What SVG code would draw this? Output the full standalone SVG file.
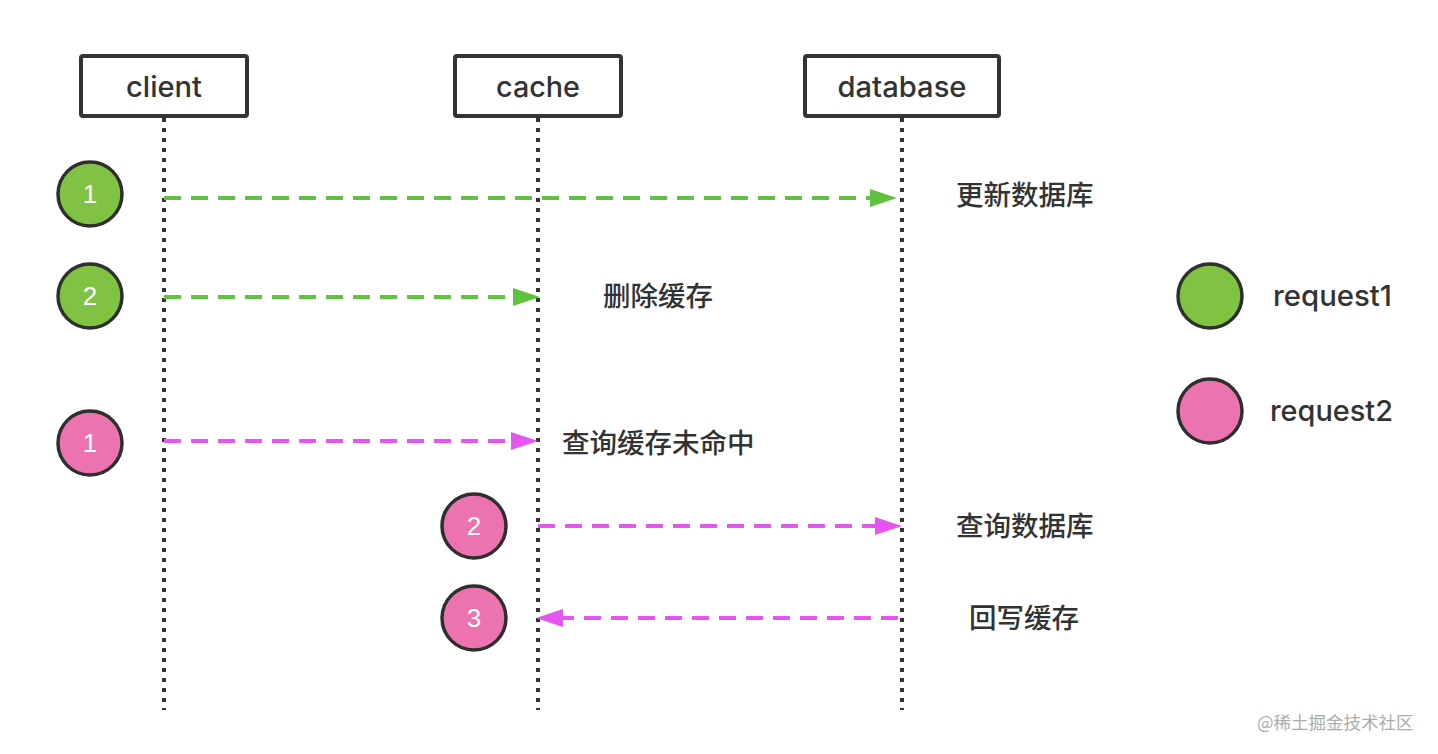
<svg xmlns="http://www.w3.org/2000/svg" width="1438" height="754" viewBox="0 0 1438 754">
  <style>
    .box { fill: #ffffff; stroke: #333333; stroke-width: 4; }
    .life { stroke: #333333; stroke-width: 4; stroke-dasharray: 4 6; fill: none; }
    .hdr { font-family: Inter, "Liberation Sans", Arial, sans-serif; font-size: 29px; font-weight: 500; fill: #333333; text-anchor: middle; }
    .g { fill: #80C342; stroke: #2F2F2F; stroke-width: 3.5; }
    .p { fill: #EC73AF; stroke: #2F2F2F; stroke-width: 3.5; }
    .num { font-family: "Liberation Sans", Arial, sans-serif; font-size: 26px; fill: #ffffff; text-anchor: middle; }
    .lbl { font-family: "Noto Sans CJK SC", "Noto Sans", sans-serif; font-size: 27.5px; font-weight: 500; fill: #333333; }
    .leg { font-family: Inter, "Liberation Sans", Arial, sans-serif; font-size: 29px; font-weight: 500; fill: #333333; }
    .ga { stroke: #60C23E; stroke-width: 4; stroke-dasharray: 17 10; fill: none; marker-end: url(#ahg); }
    .pa { stroke: #E655F0; stroke-width: 4; stroke-dasharray: 17 10; fill: none; marker-end: url(#ahp); }
    .wm { font-family: "Noto Sans CJK SC", sans-serif; font-size: 17.5px; fill: #ACACAC; }
  </style>
  <defs>
    <marker id="ahg" markerUnits="userSpaceOnUse" markerWidth="28" markerHeight="18" refX="3" refY="9" orient="auto" overflow="visible">
      <path d="M0,0 L27,9 L0,18 Z" fill="#60C23E"/>
    </marker>
    <marker id="ahp" markerUnits="userSpaceOnUse" markerWidth="28" markerHeight="18" refX="3" refY="9" orient="auto" overflow="visible">
      <path d="M0,0 L27,9 L0,18 Z" fill="#E655F0"/>
    </marker>
  </defs>
  <rect width="1438" height="754" fill="#ffffff"/>

  <g id="lifelines">
    <line class="life" x1="164" y1="118" x2="164" y2="710"/>
    <line class="life" x1="538" y1="118" x2="538" y2="710"/>
    <line class="life" x1="902" y1="118" x2="902" y2="710"/>
  </g>

  <g id="node-client">
    <rect class="box" x="81" y="56" width="166" height="60" rx="2"/>
    <text class="hdr" x="164" y="97" textLength="76" lengthAdjust="spacingAndGlyphs">client</text>
  </g>
  <g id="node-cache">
    <rect class="box" x="455" y="56" width="166" height="60" rx="2"/>
    <text class="hdr" x="538" y="97" textLength="84" lengthAdjust="spacingAndGlyphs">cache</text>
  </g>
  <g id="node-database">
    <rect class="box" x="805" y="56" width="194" height="60" rx="2"/>
    <text class="hdr" x="902" y="97" textLength="129" lengthAdjust="spacingAndGlyphs">database</text>
  </g>

  <g id="connectors">
    <line class="ga" x1="164" y1="198" x2="873" y2="198"/>
    <line class="ga" x1="164" y1="297" x2="516" y2="297"/>
    <line class="pa" x1="164" y1="441" x2="514" y2="441"/>
    <line class="pa" x1="538" y1="526" x2="878" y2="526"/>
    <line class="pa" x1="898" y1="618" x2="560" y2="618"/>
  </g>

  <g id="step-g1">
    <circle class="g" cx="90" cy="194" r="32"/>
    <text class="num" x="90" y="203">1</text>
  </g>
  <g id="step-g2">
    <circle class="g" cx="90" cy="296" r="32"/>
    <text class="num" x="90" y="305">2</text>
  </g>
  <g id="step-p1">
    <circle class="p" cx="90" cy="443" r="32"/>
    <text class="num" x="90" y="452">1</text>
  </g>
  <g id="step-p2">
    <circle class="p" cx="474" cy="526" r="32"/>
    <text class="num" x="474" y="535">2</text>
  </g>
  <g id="step-p3">
    <circle class="p" cx="474" cy="618" r="32"/>
    <text class="num" x="474" y="627">3</text>
  </g>

  <g id="labels">
    <text class="lbl" x="956" y="205">更新数据库</text>
    <text class="lbl" x="603" y="306">删除缓存</text>
    <text class="lbl" x="562" y="453">查询缓存未命中</text>
    <text class="lbl" x="956" y="536">查询数据库</text>
    <text class="lbl" x="969" y="628">回写缓存</text>
  </g>

  <g id="legend-request1">
    <circle class="g" cx="1210" cy="296" r="32"/>
    <text class="leg" x="1273" y="306" textLength="119" lengthAdjust="spacingAndGlyphs">request1</text>
  </g>
  <g id="legend-request2">
    <circle class="p" cx="1210" cy="411" r="32"/>
    <text class="leg" x="1270" y="421" textLength="123" lengthAdjust="spacingAndGlyphs">request2</text>
  </g>

  <text class="wm" x="1257" y="729">@稀土掘金技术社区</text>
</svg>
